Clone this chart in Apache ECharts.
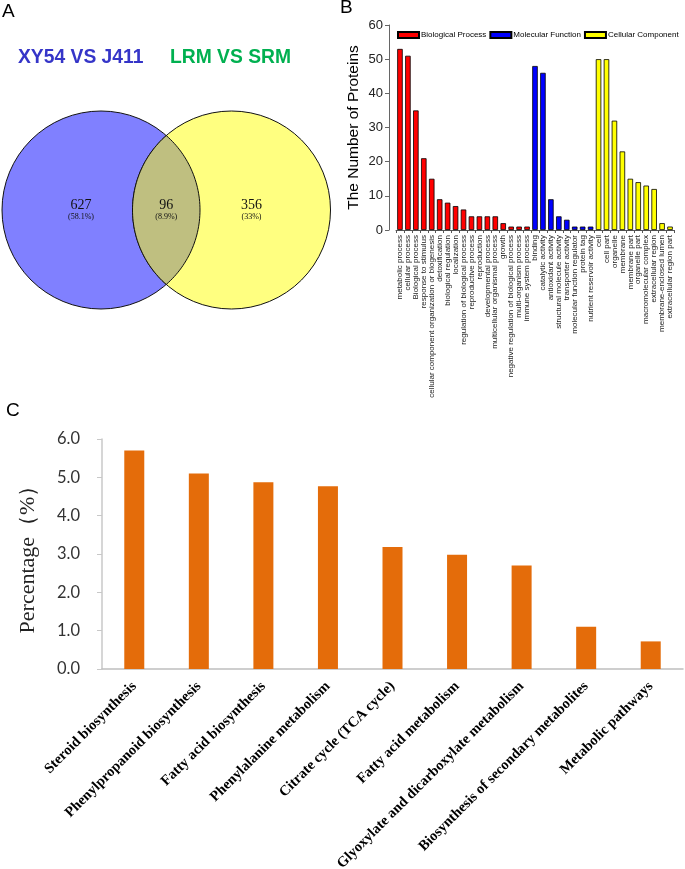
<!DOCTYPE html>
<html><head><meta charset="utf-8">
<script src="https://cdn.jsdelivr.net/npm/echarts@6/dist/echarts.min.js"></script>
<style>html,body{margin:0;padding:0;background:#fff}#c{width:685px;height:869px}</style>
</head><body><div id="c"></div>
<script>
// ---------- Panel A: Venn ----------
const vennSetNames = ['XY54 VS J411', 'LRM VS SRM'];
const vennRegions = ['XY54 VS J411 only', 'LRM VS SRM only', 'Both'];
const vennCounts = [627, 356, 96];
const vennPercents = ['58.1%', '33%', '8.9%'];

// ---------- Panel B: GO classification ----------
const bpTerms = ['metabolic process','cellular process','Biological process','response to stimulus','cellular component organization or biogenesis','detoxification','biological regulation','localization','regulation of biological process','reproductive process','reproduction','developmental process','multicellular organismal process','growth','negative regulation of biological process','multi-organism process','immune system process'];
const bpCounts = [53,51,35,21,15,9,8,7,6,4,4,4,4,2,1,1,1];
const mfTerms = ['binding','catalytic activity','antioxidant activity','structural molecule activity','transporter activity','molecular function regulator','protein tag','nutrient reservoir activity'];
const mfCounts = [48,46,9,4,3,1,1,1];
const ccTerms = ['cell','cell part','organelle','membrane','membrane part','organelle part','macromolecular complex','extracellular region','membrane-enclosed lumen','extracellular region part'];
const ccCounts = [50,50,32,23,15,14,13,12,2,1];
const goYTicks = [0,10,20,30,40,50,60];

// ---------- Panel C: KEGG pathways ----------
const keggPathways = ['Steroid biosynthesis','Phenylpropanoid biosynthesis','Fatty acid biosynthesis','Phenylalanine metabolism','Citrate cycle (TCA cycle)','Fatty acid metabolism','Glyoxylate and dicarboxylate metabolism','Biosynthesis of secondary metabolites','Metabolic pathways'];
const keggPercent = [5.7,5.1,4.87,4.77,3.18,2.98,2.7,1.1,0.72];
const keggYTicks = [0,1,2,3,4,5,6];

// build GO series data
const goCategories = bpTerms.concat(mfTerms, ccTerms);
const pad = n => Array(n).fill('-');
const bpData = bpCounts.concat(pad(mfTerms.length + ccTerms.length));
const mfData = pad(bpTerms.length).concat(mfCounts, pad(ccTerms.length));
const ccData = pad(bpTerms.length + mfTerms.length).concat(ccCounts);

// Venn layout (geometry, not data)
const VY = 210, VR = 99, VLX = 101, VRX = 231.5;
function circlePts(cx, cy, r, a0, a1, n) {
  const pts = [];
  for (let i = 0; i <= n; i++) {
    const a = a0 + (a1 - a0) * i / n;
    pts.push([cx + r * Math.cos(a), cy + r * Math.sin(a)]);
  }
  return pts;
}
function lensPts() {
  const d = VRX - VLX;
  const ang = Math.acos(d / 2 / VR);
  return circlePts(VLX, VY, VR, -ang, ang, 60).concat(circlePts(VRX, VY, VR, Math.PI - ang, Math.PI + ang, 60));
}
const vennFills = ['#8080ff', '#ffff80', '#bfbf80'];
const vennTextX = [VLX - 20, VRX + 20, (VLX + VRX) / 2];

const chart = echarts.init(document.getElementById('c'), null, {renderer: 'canvas'});
const axisFontB = 'Liberation Sans';
chart.setOption({
  animation: false,
  backgroundColor: '#fff',
  title: [
    {text: 'A', left: 2, top: 2, padding: 0, textStyle: {fontSize: 19, fontWeight: 'normal', fontFamily: axisFontB, color: '#000'}},
    {text: 'B', left: 340, top: -2, padding: 0, textStyle: {fontSize: 19, fontWeight: 'normal', fontFamily: axisFontB, color: '#000'}},
    {text: 'C', left: 6, top: 401, padding: 0, textStyle: {fontSize: 19, fontWeight: 'normal', fontFamily: axisFontB, color: '#000'}},
    {text: vennSetNames[0], left: 18, top: 48, padding: 0, textStyle: {fontSize: 19.3, fontWeight: 'bold', fontFamily: axisFontB, color: '#3535c8'}},
    {text: vennSetNames[1], left: 170, top: 48, padding: 0, textStyle: {fontSize: 19.3, fontWeight: 'bold', fontFamily: axisFontB, color: '#00b050'}}
  ],
  legend: {
    data: ['Biological Process', 'Molecular Function', 'Cellular Component'],
    left: 397, top: 31, padding: 0,
    itemWidth: 21, itemHeight: 6, itemGap: 3,
    icon: 'rect',
    textStyle: {fontSize: 8, fontFamily: axisFontB, color: '#000', padding: [0, 0, 0, -3]}
  },
  grid: [
    {left: 396, right: 11, top: 25, bottom: 869 - 230, containLabel: false, outerBoundsMode: 'none'},
    {left: 102, right: 2, top: 439, bottom: 869 - 669, containLabel: false, outerBoundsMode: 'none'}
  ],
  xAxis: [
    {
      type: 'category', gridIndex: 0, data: goCategories,
      axisLine: {lineStyle: {color: '#555', width: 1}},
      axisTick: {show: true, length: 3, lineStyle: {color: '#555'}},
      axisLabel: {rotate: 90, interval: 0, fontSize: 8, fontFamily: axisFontB, color: '#222', margin: 5}
    },
    {
      type: 'category', gridIndex: 1, data: keggPathways,
      axisLine: {lineStyle: {color: '#bfbfbf', width: 1.5}},
      axisTick: {show: false},
      axisLabel: {rotate: 45, interval: 0, fontSize: 14.5, fontWeight: 'bold', fontFamily: 'Liberation Serif', color: '#000', margin: 15}
    }
  ],
  yAxis: [
    {
      type: 'value', gridIndex: 0, min: goYTicks[0], max: goYTicks[goYTicks.length - 1], interval: 10, offset: 7,
      name: 'The Number of Proteins', nameLocation: 'middle', nameGap: 27,
      nameTextStyle: {fontSize: 15.5, fontFamily: axisFontB, color: '#000'},
      axisLine: {show: true, lineStyle: {color: '#666', width: 1}},
      axisTick: {show: true, length: 4, lineStyle: {color: '#666'}},
      axisLabel: {fontSize: 13, fontFamily: axisFontB, color: '#222', margin: 6},
      splitLine: {show: false}
    },
    {
      type: 'value', gridIndex: 1, min: keggYTicks[0], max: keggYTicks[keggYTicks.length - 1], interval: 1,
      name: 'Percentage（%）', nameLocation: 'middle', nameGap: 63,
      nameTextStyle: {fontSize: 22, fontFamily: 'Liberation Serif', color: '#222'},
      axisLine: {show: true, lineStyle: {color: '#c8c8c8', width: 1.5}},
      axisTick: {show: true, length: 5, lineStyle: {color: '#c8c8c8'}},
      axisLabel: {fontSize: 16.5, fontFamily: 'Lato', color: '#333', margin: 22, formatter: v => v.toFixed(1)},
      splitLine: {show: false}
    }
  ],
  series: [
    {
      type: 'custom', coordinateSystem: 'none', silent: true,
      data: vennCounts.map((c, i) => ({name: vennRegions[i], value: [c]})),
      renderItem: function (params, api) {
        const i = params.dataIndex;
        let shape;
        if (i === 0) shape = {type: 'circle', shape: {cx: VLX, cy: VY, r: VR}, style: {fill: vennFills[0], stroke: '#111', lineWidth: 1}};
        else if (i === 1) shape = {type: 'circle', shape: {cx: VRX, cy: VY, r: VR}, style: {fill: vennFills[1], stroke: '#111', lineWidth: 1}};
        else shape = {type: 'polygon', shape: {points: lensPts()}, style: {fill: vennFills[2], stroke: '#111', lineWidth: 1}};
        const tx = vennTextX[i];
        return {
          type: 'group',
          children: [
            shape,
            {type: 'text', z2: 10, style: {text: String(vennCounts[i]), x: tx, y: VY - 5, font: '14px "Liberation Serif"', fill: '#111', align: 'center', verticalAlign: 'middle'}},
            {type: 'text', z2: 10, style: {text: '(' + vennPercents[i] + ')', x: tx, y: VY + 6.5, font: '8px "Liberation Serif"', fill: '#111', align: 'center', verticalAlign: 'middle'}}
          ]
        };
      }
    },
    {name: 'Biological Process', type: 'bar', xAxisIndex: 0, yAxisIndex: 0, stack: 'go', data: bpData, barWidth: 5.5,
      itemStyle: {color: '#ff0000', borderColor: '#000', borderWidth: 0.8}},
    {name: 'Molecular Function', type: 'bar', xAxisIndex: 0, yAxisIndex: 0, stack: 'go', data: mfData, barWidth: 5.5,
      itemStyle: {color: '#0000ff', borderColor: '#000', borderWidth: 0.8}},
    {name: 'Cellular Component', type: 'bar', xAxisIndex: 0, yAxisIndex: 0, stack: 'go', data: ccData, barWidth: 5.5,
      itemStyle: {color: '#ffff00', borderColor: '#000', borderWidth: 0.8}},
    {name: 'KEGG', type: 'bar', xAxisIndex: 1, yAxisIndex: 1, data: keggPercent, barWidth: 20,
      itemStyle: {color: '#e46c0a'}}
  ]
});
</script></body></html>
